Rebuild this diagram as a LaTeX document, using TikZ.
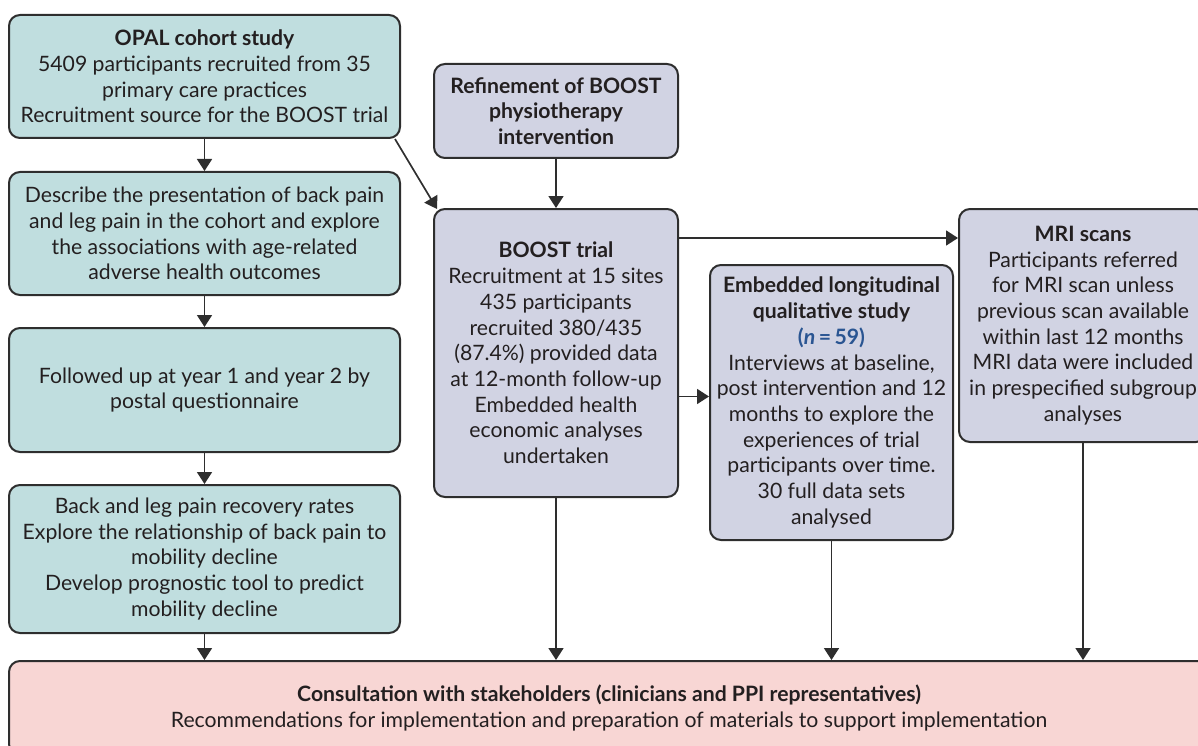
\documentclass[tikz,border=0pt]{standalone}
\usepackage{fontspec}
\setmainfont{Lato}
\usepackage{tikz}
\usetikzlibrary{arrows.meta}

\definecolor{cohortfill}{HTML}{C0DEDF}
\definecolor{trialfill}{HTML}{D1D3E3}
\definecolor{consultfill}{HTML}{F8D6D4}
\definecolor{edgegrey}{HTML}{2E2E2E}
\definecolor{textgrey}{HTML}{231F20}
\definecolor{nblue}{HTML}{2A5592}

\begin{document}
\begin{tikzpicture}[x=1pt, y=-1pt,
    every node/.style={font=\fontsize{21.2}{25.7}\selectfont, text=textgrey},
    box/.style={draw=edgegrey, line width=2pt, rounded corners=11pt, align=center,
      inner sep=0pt, minimum width=#1},
    box/.default=391pt,
    arr/.style={draw=edgegrey, line width=1.7pt, -{Triangle[length=12pt, width=15pt]}}]
      \useasboundingbox (0,0) rectangle (1198,746);
      \clip (0,0) rectangle (1198,746);
      % left column
      \node[box, fill=cohortfill, minimum height=123pt] (opal) at (204.5,76.5)
        {\textbf{OPAL cohort study}\\5409 participants recruited from 35\\primary care practices\\Recruitment source for the BOOST trial};
      \node[box, fill=cohortfill, minimum height=123pt] (describe) at (204.5,233.5)
        {Describe the presentation of back pain\\and leg pain in the cohort and explore\\the associations with age-related\\adverse health outcomes};
      \node[box, fill=cohortfill, minimum height=124pt] (followed) at (204.5,390)
        {Followed up at year 1 and year 2 by\\postal questionnaire};
      \node[box, fill=cohortfill, minimum height=148pt] (recovery) at (204.5,559)
        {Back and leg pain recovery rates\\Explore the relationship of back pain to\\mobility decline\\Develop prognostic tool to predict\\mobility decline};
      % trial column
      \node[box=244pt, fill=trialfill, minimum height=94pt, font=\fontsize{21.2}{25.7}\selectfont\bfseries] (refine) at (556,111)
        {Refinement of BOOST\\physiotherapy\\intervention};
      \node[box=244pt, fill=trialfill, minimum height=288pt] (boost) at (556,353)
        {\textbf{BOOST trial}\\Recruitment at 15 sites\\435 participants\\recruited 380/435\\(87.4\%) provided data\\at 12-month follow-up\\Embedded health\\economic analyses\\undertaken};
      \node[box=243pt, fill=trialfill, minimum height=275pt] (embedded) at (831.5,402.5)
        {\textbf{Embedded longitudinal}\\\textbf{qualitative study}\\{\color{nblue}\bfseries(\textit{n}\,=\,59)}\\Interviews at baseline,\\post intervention and 12\\months to explore the\\experiences of trial\\participants over time.\\30 full data sets\\analysed};
      \node[box=248pt, fill=trialfill, minimum height=233pt] (mri) at (1083,325.5)
        {\textbf{MRI scans}\\Participants referred\\for MRI scan unless\\previous scan available\\within last 12 months\\MRI data were included\\in prespecified subgroup\\analyses};
      % stakeholders
      \node[box=1200pt, fill=consultfill, minimum height=94pt] (consult) at (609,708)
        {\textbf{Consultation with stakeholders (clinicians and PPI representatives)}\\Recommendations for implementation and preparation of materials to support implementation};
      % connectors
      \foreach \a/\b in {opal/describe, describe/followed, followed/recovery, refine/boost}
        \draw[arr] (\a) -- (\b);
      \draw[arr] ([xshift=-6pt]opal.south east) -- ([xshift=4pt, yshift=-1pt]boost.north west);
      \draw[arr] ([yshift=-30pt]boost.north east) -- ([yshift=-30pt]mri.north west);
      \path ([yshift=6pt]embedded.west) coordinate (embin);
      \draw[arr] (boost.east |- embin) -- (embin);
      \foreach \n in {recovery, boost, embedded, mri}
        \draw[arr] (\n.south) -- (\n.south |- consult.north);
    \end{tikzpicture}
\end{document}
